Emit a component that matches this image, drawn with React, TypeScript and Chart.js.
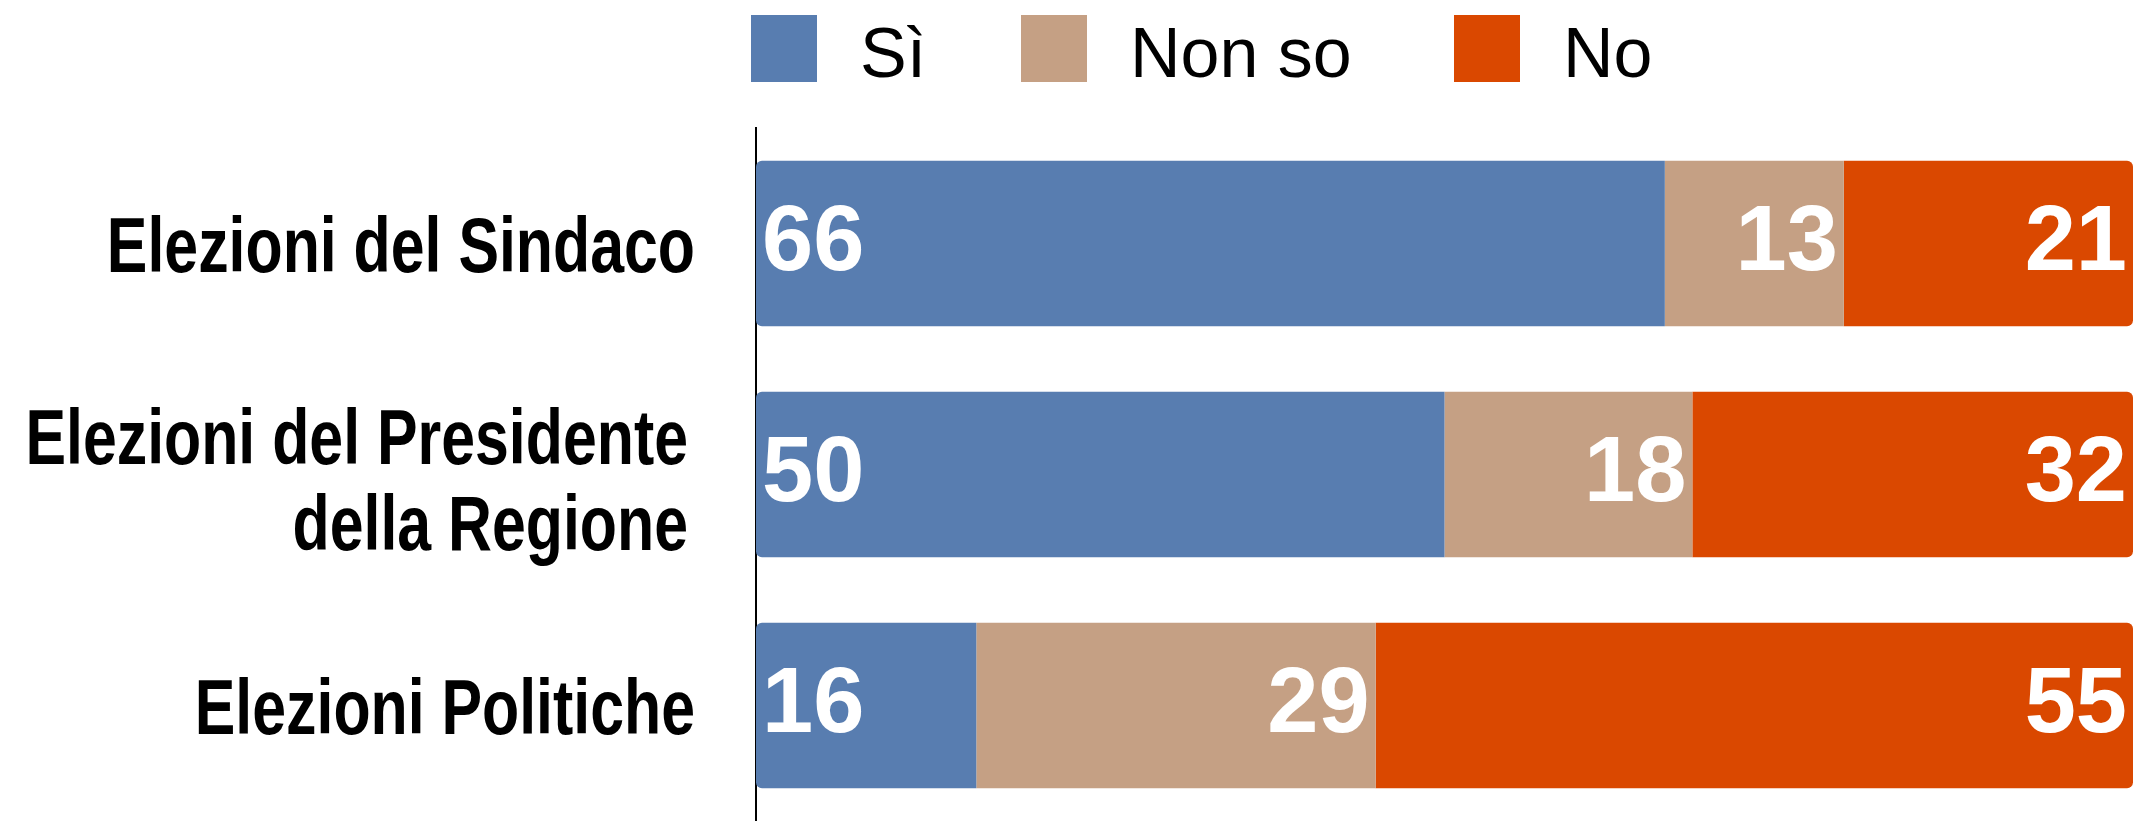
import React, { useEffect, useRef } from 'react';
import { Chart, registerables } from 'chart.js';

Chart.register(...registerables);

// ---- Data ----
const categories: (string | string[])[] = [
  'Elezioni del Sindaco',
  ['Elezioni del Presidente', 'della Regione'],
  'Elezioni Politiche',
];
const seriesNames = ['Sì', 'Non so', 'No'];
const siValues = [66, 50, 16];
const nonSoValues = [13, 18, 29];
const noValues = [21, 32, 55];

// ---- Styles ----
const seriesColors = ['#587DB0', '#C5A084', '#DA4800'];
const legendBoxX = [751, 1021, 1454];

const legendPlugin = {
  id: 'customLegend',
  afterDraw(chart: any) {
    const ctx = chart.ctx as CanvasRenderingContext2D;
    ctx.save();
    ctx.font = '70px "Liberation Sans", Arial, sans-serif';
    ctx.textAlign = 'left';
    ctx.textBaseline = 'alphabetic';
    chart.data.datasets.forEach((ds: any, i: number) => {
      const x = legendBoxX[i];
      ctx.fillStyle = ds.backgroundColor;
      ctx.fillRect(x, 15, 66, 67);
      ctx.fillStyle = '#000';
      ctx.fillText(ds.label, x + 66 + 43, 77);
    });
    ctx.restore();
  },
};

// Category labels drawn in a condensed bold face (horizontally narrowed)
const categoryLabelPlugin = {
  id: 'categoryLabels',
  afterDraw(chart: any) {
    const yScale = chart.scales.y;
    const ctx = chart.ctx as CanvasRenderingContext2D;
    ctx.save();
    ctx.font = 'bold 77px "Liberation Sans", Arial, sans-serif';
    ctx.fillStyle = '#000000';
    ctx.textAlign = 'right';
    ctx.textBaseline = 'alphabetic';
    const lineH = 86;
    (chart.data.labels as any[]).forEach((lab: any, i: number) => {
      const lines: string[] = Array.isArray(lab) ? lab : [lab];
      const multi = lines.length > 1;
      const xRight = yScale.right - (multi ? 68 : 61);
      const yc = yScale.getPixelForValue(i);
      const startY = yc - ((lines.length - 1) * lineH) / 2 + (multi ? 4 : 0);
      lines.forEach((line, j) => {
        ctx.save();
        ctx.translate(xRight, startY + j * lineH + 28);
        ctx.scale(0.79, 1);
        ctx.fillText(line, 0, 0);
        ctx.restore();
      });
    });
    ctx.restore();
  },
};

const valueLabelPlugin = {
  id: 'valueLabels',
  afterDatasetsDraw(chart: any) {
    const ctx = chart.ctx as CanvasRenderingContext2D;
    ctx.save();
    ctx.font = 'bold 92px "Liberation Sans", Arial, sans-serif';
    ctx.fillStyle = '#ffffff';
    ctx.textBaseline = 'middle';
    chart.data.datasets.forEach((ds: any, di: number) => {
      const meta = chart.getDatasetMeta(di);
      meta.data.forEach((el: any, i: number) => {
        const v = ds.data[i];
        const { x, y, base } = el.getProps(['x', 'y', 'base'], true);
        if (di === 0) {
          ctx.textAlign = 'left';
          ctx.fillText(String(v), Math.min(x, base) + 6, y + 1);
        } else {
          ctx.textAlign = 'right';
          ctx.fillText(String(v), Math.max(x, base) - 6, y + 1);
        }
      });
    });
    ctx.restore();
  },
};

export default function App() {
  const canvasRef = useRef<HTMLCanvasElement | null>(null);

  useEffect(() => {
    if (!canvasRef.current) return;
    const chart = new Chart(canvasRef.current, {
      type: 'bar',
      data: {
        labels: categories,
        datasets: [
          {
            label: seriesNames[0],
            data: siValues,
            backgroundColor: seriesColors[0],
            borderWidth: 0,
            borderSkipped: false,
            borderRadius: { topLeft: 6, bottomLeft: 6, topRight: 0, bottomRight: 0 },
          },
          {
            label: seriesNames[1],
            data: nonSoValues,
            backgroundColor: seriesColors[1],
            borderWidth: 0,
            borderSkipped: false,
            borderRadius: 0,
          },
          {
            label: seriesNames[2],
            data: noValues,
            backgroundColor: seriesColors[2],
            borderWidth: 0,
            borderSkipped: false,
            borderRadius: { topLeft: 0, bottomLeft: 0, topRight: 6, bottomRight: 6 },
          },
        ],
      },
      options: {
        responsive: false,
        animation: false,
        indexAxis: 'y',
        layout: { padding: { top: 128, right: 0, bottom: 0, left: 0 } },
        datasets: {
          bar: { categoryPercentage: 1, barPercentage: 0.716 },
        },
        plugins: {
          legend: { display: false },
          tooltip: { enabled: false },
        },
        scales: {
          x: {
            stacked: true,
            min: 0,
            max: 100,
            display: false,
          },
          y: {
            stacked: true,
            grid: { display: false, drawTicks: false },
            border: { display: true, color: '#000000', width: 2 },
            ticks: { display: false },
            afterFit: (scale: any) => {
              scale.width = 756;
              scale.paddingTop = 0;
              scale.paddingBottom = 0;
            },
          },
        },
      } as any,
      plugins: [legendPlugin, categoryLabelPlugin, valueLabelPlugin],
    });
    return () => chart.destroy();
  }, []);

  return (
    <div style={{ position: 'fixed', left: 0, top: 0, width: 2133, height: 821, overflow: 'hidden', background: '#fff' }}>
      <canvas ref={canvasRef} width={2133} height={821} style={{ display: 'block' }} />
    </div>
  );
}
